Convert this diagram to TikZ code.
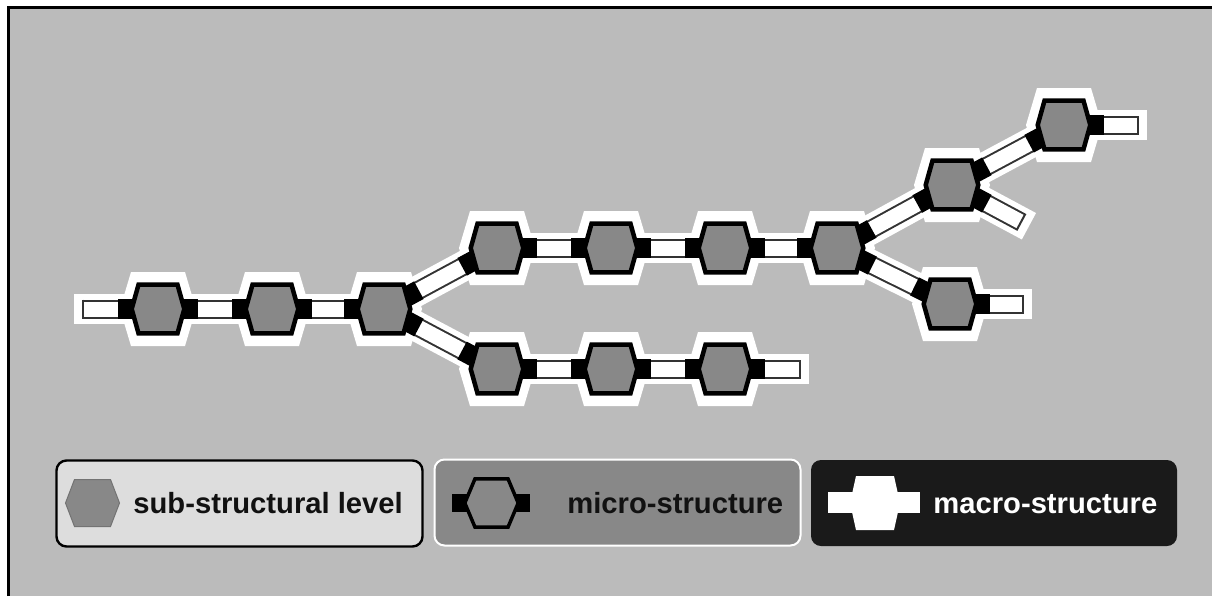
\documentclass[tikz,border=0pt]{standalone}
\usepackage{fontspec}
\setmainfont{Liberation Sans}
\usetikzlibrary{calc}

\definecolor{canvasgray}{HTML}{BBBBBB}
\definecolor{cellgray}{HTML}{888888}
\definecolor{railgray}{HTML}{333333}
\definecolor{keylight}{HTML}{DDDDDD}
\definecolor{keydark}{HTML}{1A1A1A}
\definecolor{inkgray}{HTML}{111111}

\begin{document}
\begin{tikzpicture}[
  x = 0.5pt,
  y = -0.5pt,
  site/.style = {inner sep = 0pt, minimum size = 0pt},
  band/.style = {white, line width = 15pt},
  rail/.style = {draw = railgray, line width = 1pt, double = white, double distance = 7.5pt},
  railend/.style = {railgray, line width = 1pt},
  plug/.style = {black, line width = 10pt},
  keybox/.style = {rounded corners = 5pt, minimum width = 183pt, minimum height = 43pt},
  keytext/.style = {anchor = base west, inner sep = 0pt, font = \bfseries\fontsize{14.6}{17}\selectfont},
  pics/halo/.style = {code = {
    \fill [white] (-27, -37) -- (27, -37) -- (38, 0) -- (27, 37) -- (-27, 37) -- (-38, 0) -- cycle;
  }},
  pics/core/.style = {code = {
    \draw [fill = cellgray, line width = 2.25pt] (-19.5, -24.3) -- (19.5, -24.3) -- (26.3, 0) -- (19.5, 24.3) -- (-19.5, 24.3) -- (-26.3, 0) -- cycle;
  }},
  ]

  \useasboundingbox (0, 0) rectangle (1212, 596);

  \fill [white] (0, 0) rectangle (1212, 596);

  \fill [canvasgray] (10, 9) rectangle (1212, 596);

  \draw [black, line width = 1.5pt] (8.5, 596) -- (8.5, 7.5) -- (1212, 7.5);

  \node at (158, 309) [site, name = A1] {};
  \node at (272, 309) [site, name = A2] {};
  \node at (384, 309) [site, name = A3] {};

  \node at (497, 248) [site, name = B1] {};
  \node at (611, 248) [site, name = B2] {};
  \node at (725, 248) [site, name = B3] {};
  \node at (837, 248) [site, name = B4] {};

  \node at (497, 369) [site, name = C1] {};
  \node at (611, 369) [site, name = C2] {};
  \node at (725, 369) [site, name = C3] {};

  \node at (952, 185) [site, name = D1] {};
  \node at (1064, 125) [site, name = D2] {};
  \node at (950, 304) [site, name = D3] {};

  \node at (83, 309) [site, name = EA] {};
  \node at (800, 369) [site, name = EC] {};
  \node at (1021, 222) [site, name = ED1] {};
  \node at (1138, 125) [site, name = ED2] {};
  \node at (1023, 304) [site, name = ED3] {};

  \foreach \n in {A1, A2, A3, B1, B2, B3, B4, C1, C2, C3, D1, D2, D3}
    \pic at (\n) {halo};

  \foreach \a/\b in {A1/A2, A2/A3, A3/B1, A3/C1, B1/B2, B2/B3, B3/B4, C1/C2, C2/C3, B4/D1, B4/D3, D1/D2}
    \draw [band] (\a) -- (\b);

  \foreach \a/\b in {A1/EA, C3/EC, D1/ED1, D2/ED2, D3/ED3}
    \draw [band] (\a) -- ($(\b)!-4.5pt!(\a)$);

  \foreach \a/\b in {A1/A2, A2/A3, A3/B1, A3/C1, B1/B2, B2/B3, B3/B4, C1/C2, C2/C3, B4/D1, B4/D3, D1/D2}
    \draw [rail] (\a) -- (\b);

  \foreach \a/\b in {A1/EA, C3/EC, D1/ED1, D2/ED2, D3/ED3} {
    \draw [rail] (\a) -- (\b);
    \draw [railend] ($(\b)!4.75pt!90:(\a)$) -- ($(\b)!4.75pt!-90:(\a)$);
  }

  \foreach \a/\b in {A1/A2, A2/A3, A3/B1, A3/C1, B1/B2, B2/B3, B3/B4, C1/C2, C2/C3, B4/D1, B4/D3, D1/D2} {
    \draw [plug] ($(\a)!11pt!(\b)$) -- ($(\a)!19.8pt!(\b)$);
    \draw [plug] ($(\b)!11pt!(\a)$) -- ($(\b)!19.8pt!(\a)$);
  }

  \foreach \a/\b in {A1/EA, C3/EC, D1/ED1, D2/ED2, D3/ED3}
    \draw [plug] ($(\a)!11pt!(\b)$) -- ($(\a)!19.8pt!(\b)$);

  \foreach \n in {A1, A2, A3, B1, B2, B3, B4, C1, C2, C3, D1, D2, D3}
    \pic at (\n) {core};

  \node at (239.5, 503.5) [keybox, fill = keylight, draw = black, line width = 1.2pt, name = KeySub] {};

  \draw [shift = {(92.5, 503)}, fill = cellgray, draw = black!55, line width = 0.5pt] (-18, -23.5) -- (18, -23.5) -- (27, 0) -- (18, 23.5) -- (-18, 23.5) -- (-27, 0) -- cycle;

  \node at (133, 513) [keytext, text = inkgray, name = KeySubText] {sub-structural level};

  \node at (617.5, 502.5) [keybox, fill = cellgray, draw = white, line width = 1pt, name = KeyMicro] {};

  \fill [black] (452, 494) rectangle (470, 512);
  \fill [black] (512, 494) rectangle (530, 512);

  \draw [shift = {(491.5, 503)}, fill = cellgray, line width = 1.75pt] (-16.5, -24.2) -- (16.5, -24.2) -- (26.7, 0) -- (16.5, 24.2) -- (-16.5, 24.2) -- (-26.7, 0) -- cycle;

  \node at (567, 513) [keytext, text = inkgray, name = KeyMicroText] {micro-structure};

  \node at (994, 503) [keybox, fill = keydark, name = KeyMacro] {};

  \fill [white] (828, 492) rectangle (920, 513);

  \fill [white, shift = {(875, 503)}] (-19, -27) -- (19, -27) -- (25, 0) -- (19, 27) -- (-19, 27) -- (-25, 0) -- cycle;

  \node at (933, 513) [keytext, text = white, name = KeyMacroText] {macro-structure};

\end{tikzpicture}
\end{document}
